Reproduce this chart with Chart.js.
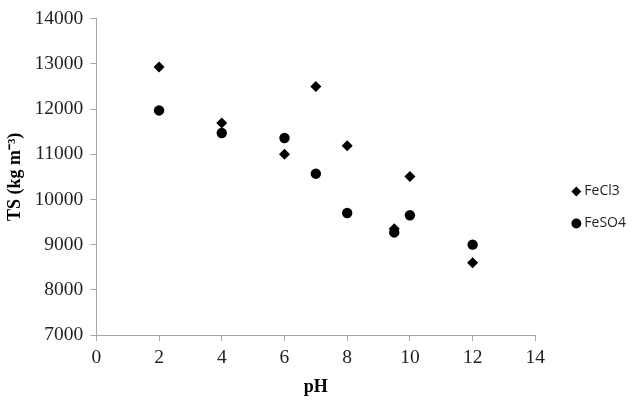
<!DOCTYPE html>
<html>
<head>
<meta charset="utf-8">
<script src="https://cdn.jsdelivr.net/npm/chart.js@4"></script>
<style>
html,body{margin:0;padding:0;background:#fff;}
#wrap{width:636px;height:402px;position:relative;}
</style>
</head>
<body>
<div id="wrap"><canvas id="c" width="636" height="402"></canvas></div>
<script>
const pH = [2, 4, 6, 7, 8, 9.5, 10, 12];
const fecl3 = [12930, 11690, 11000, 12500, 11190, 9350, 10510, 8600];
const feso4 = [11970, 11470, 11360, 10570, 9700, 9270, 9650, 9000];
const seriesNames = ['FeCl3', 'FeSO4'];
const xTitle = 'pH';
const yTitle = 'TS (kg m\u207B\u00B3)';

const toPts = (ys) => pH.map((x, i) => ({x: x, y: ys[i]}));

// shift the legend items within/beside the box reserved for it
const LEGEND_DX = 22;
const LEGEND_DY = 4;
const legendShift = {
  id: 'legendShift',
  beforeLayout(chart) {
    const lg = chart.legend;
    if (lg && !lg._shiftPatched) {
      const d = lg.draw;
      lg.draw = function () {
        const ctx = this.ctx;
        ctx.save();
        ctx.translate(LEGEND_DX, LEGEND_DY);
        d.apply(this, arguments);
        ctx.restore();
      };
      lg._shiftPatched = true;
    }
  }
};

new Chart(document.getElementById('c'), {
  type: 'scatter',
  data: {
    datasets: [
      {label: seriesNames[0], data: toPts(fecl3), pointStyle: 'rectRot', pointRadius: 5.5, backgroundColor: '#000', borderColor: '#000', borderWidth: 0},
      {label: seriesNames[1], data: toPts(feso4), pointStyle: 'circle', pointRadius: 5.2, backgroundColor: '#000', borderColor: '#000', borderWidth: 0}
    ]
  },
  plugins: [legendShift],
  options: {
    responsive: false,
    animation: false,
    layout: {padding: {top: 9, right: 22, bottom: 4, left: 5}},
    plugins: {
      tooltip: {enabled: false},
      legend: {
        position: 'right',
        labels: {
          usePointStyle: true,
          boxWidth: 2, boxHeight: 7,
          padding: 18,
          color: '#222',
          font: {family: 'Open Sans', size: 14}
        }
      }
    },
    scales: {
      x: {
        type: 'linear', min: 0, max: 14,
        ticks: {stepSize: 2, color: '#222', font: {family: 'Liberation Serif', size: 19.5}, padding: 5, callback: v => String(v)},
        grid: {drawOnChartArea: false, drawTicks: true, tickLength: 6, color: '#a6a6a6', lineWidth: 1},
        border: {color: '#a6a6a6', width: 1},
        title: {display: true, text: xTitle, color: '#000', font: {family: 'Liberation Serif', size: 18, weight: 'bold'}, padding: {top: 2, bottom: 0}}
      },
      y: {
        type: 'linear', min: 7000, max: 14000,
        ticks: {stepSize: 1000, color: '#222', font: {family: 'Liberation Serif', size: 19.5}, padding: 7, callback: v => String(v)},
        grid: {drawOnChartArea: false, drawTicks: true, tickLength: 6, color: '#a6a6a6', lineWidth: 1},
        border: {color: '#a6a6a6', width: 1},
        title: {display: true, text: yTitle, color: '#000', font: {family: 'Liberation Serif', size: 18, weight: 'bold'}, padding: {top: 0, bottom: 1}}
      }
    }
  }
});
</script>
</body>
</html>
